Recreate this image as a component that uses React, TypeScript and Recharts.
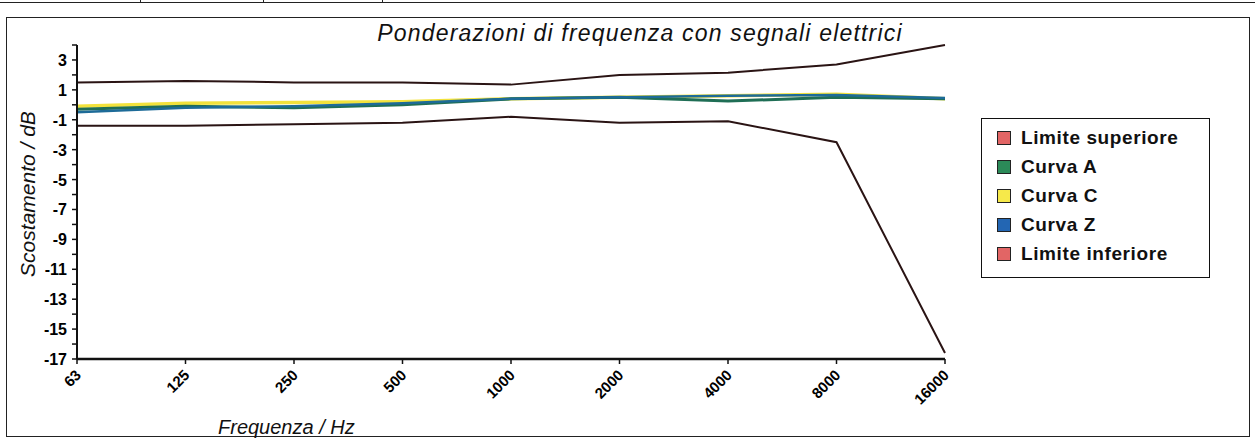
import React from 'react';
import { LineChart, Line, XAxis, YAxis } from 'recharts';

const FREQUENZE = ['63', '125', '250', '500', '1000', '2000', '4000', '8000', '16000'];
const LIMITE_SUP = [1.5, 1.6, 1.5, 1.5, 1.35, 2.0, 2.15, 2.7, 4.0];
const CURVA_A = [-0.3, -0.1, -0.2, 0.0, 0.4, 0.5, 0.25, 0.5, 0.4];
const CURVA_C = [-0.1, 0.1, 0.15, 0.2, 0.4, 0.5, 0.6, 0.7, 0.4];
const CURVA_Z = [-0.5, -0.2, -0.1, 0.1, 0.4, 0.5, 0.6, 0.65, 0.45];
const LIMITE_INF = [-1.4, -1.4, -1.3, -1.2, -0.8, -1.2, -1.1, -2.5, -16.6];
const Y_TICKS = [-17, -16, -15, -14, -13, -12, -11, -10, -9, -8, -7, -6, -5, -4, -3, -2, -1, 0, 1, 2, 3, 4];

const FONT = '"Liberation Sans", Arial, sans-serif';

const data = FREQUENZE.map((f, i) => ({
  f,
  sup: LIMITE_SUP[i],
  a: CURVA_A[i],
  c: CURVA_C[i],
  z: CURVA_Z[i],
  inf: LIMITE_INF[i],
}));

const LEGEND_ITEMS = [
  { name: 'Limite superiore', color: '#e26565' },
  { name: 'Curva A', color: '#2b8a58' },
  { name: 'Curva C', color: '#f6e94a' },
  { name: 'Curva Z', color: '#2366b3' },
  { name: 'Limite inferiore', color: '#e26565' },
];

const XTick = (props: any) => {
  const { x, y, payload } = props;
  return (
    <text
      x={x + 5}
      y={y + 10}
      transform={`rotate(-45, ${x + 5}, ${y + 10})`}
      textAnchor="end"
      fontFamily={FONT}
      fontWeight="bold"
      fontSize={15}
      fill="#000"
    >
      {payload.value}
    </text>
  );
};

const YTick = (props: any) => {
  const { x, y, payload } = props;
  if (Math.abs(payload.value) % 2 !== 1) return <g />;
  return (
    <text
      x={x - 3}
      y={y + 6}
      textAnchor="end"
      fontFamily={FONT}
      fontWeight="bold"
      fontSize={16}
      fill="#000"
    >
      {payload.value}
    </text>
  );
};

const LegendBox = () => (
  <div
    style={{
      position: 'absolute',
      left: 981,
      top: 118,
      width: 229,
      height: 160,
      border: '1.5px solid #111',
      boxSizing: 'border-box',
      paddingTop: 4,
      paddingLeft: 15,
      background: '#fff',
    }}
  >
    {LEGEND_ITEMS.map((item) => (
      <div
        key={item.name}
        style={{
          display: 'flex',
          alignItems: 'center',
          height: 29,
          fontFamily: FONT,
          fontWeight: 'bold',
          fontSize: 19,
          letterSpacing: 0.6,
          color: '#111',
          whiteSpace: 'nowrap',
        }}
      >
        <span
          style={{
            display: 'inline-block',
            width: 12,
            height: 12,
            background: item.color,
            border: '1.5px solid #222',
            marginRight: 10,
          }}
        />
        {item.name}
      </div>
    ))}
  </div>
);

export default function App() {
  return (
    <div style={{ position: 'absolute', left: 0, top: 0, width: 1255, height: 438, background: '#fff', overflow: 'hidden' }}>
      {/* table fragment above */}
      <div style={{ position: 'absolute', left: 0, top: 2, width: 1255, height: 0, borderTop: '1.5px solid #222' }} />
      {[140, 263, 382].map((x) => (
        <div key={x} style={{ position: 'absolute', left: x, top: 0, width: 0, height: 3, borderLeft: '1.5px solid #222' }} />
      ))}
      {/* chart frame */}
      <div
        style={{
          position: 'absolute',
          left: 6,
          top: 17,
          width: 1244,
          height: 420,
          border: '1.5px solid #222',
          boxSizing: 'border-box',
        }}
      />
      <div
        style={{
          position: 'absolute',
          left: 0,
          top: 20,
          width: 1280,
          textAlign: 'center',
          fontFamily: FONT,
          fontStyle: 'italic',
          fontSize: 23,
          letterSpacing: 1.2,
          color: '#111',
          whiteSpace: 'nowrap',
        }}
      >
        Ponderazioni di frequenza con segnali elettrici
      </div>
      <div
        style={{
          position: 'absolute',
          left: 28,
          top: 194,
          transform: 'translate(-50%, -50%) rotate(-90deg)',
          whiteSpace: 'nowrap',
          fontFamily: FONT,
          fontStyle: 'italic',
          fontSize: 21,
          color: '#111',
        }}
      >
        Scostamento / dB
      </div>
      <div
        style={{
          position: 'absolute',
          left: 218,
          top: 416,
          whiteSpace: 'nowrap',
          fontFamily: FONT,
          fontStyle: 'italic',
          fontSize: 20,
          color: '#111',
        }}
      >
        Frequenza / Hz
      </div>
      <div style={{ position: 'absolute', left: 0, top: 0 }}>
        <LineChart width={1255} height={438} data={data} margin={{ top: 45, right: 310, bottom: 0, left: 0 }}>
          <XAxis
            dataKey="f"
            height={79}
            interval={0}
            tick={<XTick />}
            tickSize={5}
            axisLine={{ stroke: '#111', strokeWidth: 2.5 }}
            tickLine={{ stroke: '#111', strokeWidth: 1.5 }}
          />
          <YAxis
            width={77}
            domain={[-17, 4]}
            ticks={Y_TICKS}
            interval={0}
            tick={<YTick />}
            tickSize={5}
            axisLine={{ stroke: '#111', strokeWidth: 2 }}
            tickLine={{ stroke: '#111', strokeWidth: 1.5 }}
          />
          <Line dataKey="sup" name="Limite superiore" stroke="#2a1414" strokeWidth={2} dot={false} isAnimationActive={false} />
          <Line dataKey="c" name="Curva C" stroke="#f2e23c" strokeWidth={3.5} dot={false} isAnimationActive={false} />
          <Line dataKey="a" name="Curva A" stroke="#1f6e55" strokeWidth={3} dot={false} isAnimationActive={false} />
          <Line dataKey="z" name="Curva Z" stroke="#1d6b98" strokeWidth={2.5} dot={false} isAnimationActive={false} />
          <Line dataKey="inf" name="Limite inferiore" stroke="#2a1414" strokeWidth={2} dot={false} isAnimationActive={false} />
        </LineChart>
      </div>
      <LegendBox />
    </div>
  );
}
